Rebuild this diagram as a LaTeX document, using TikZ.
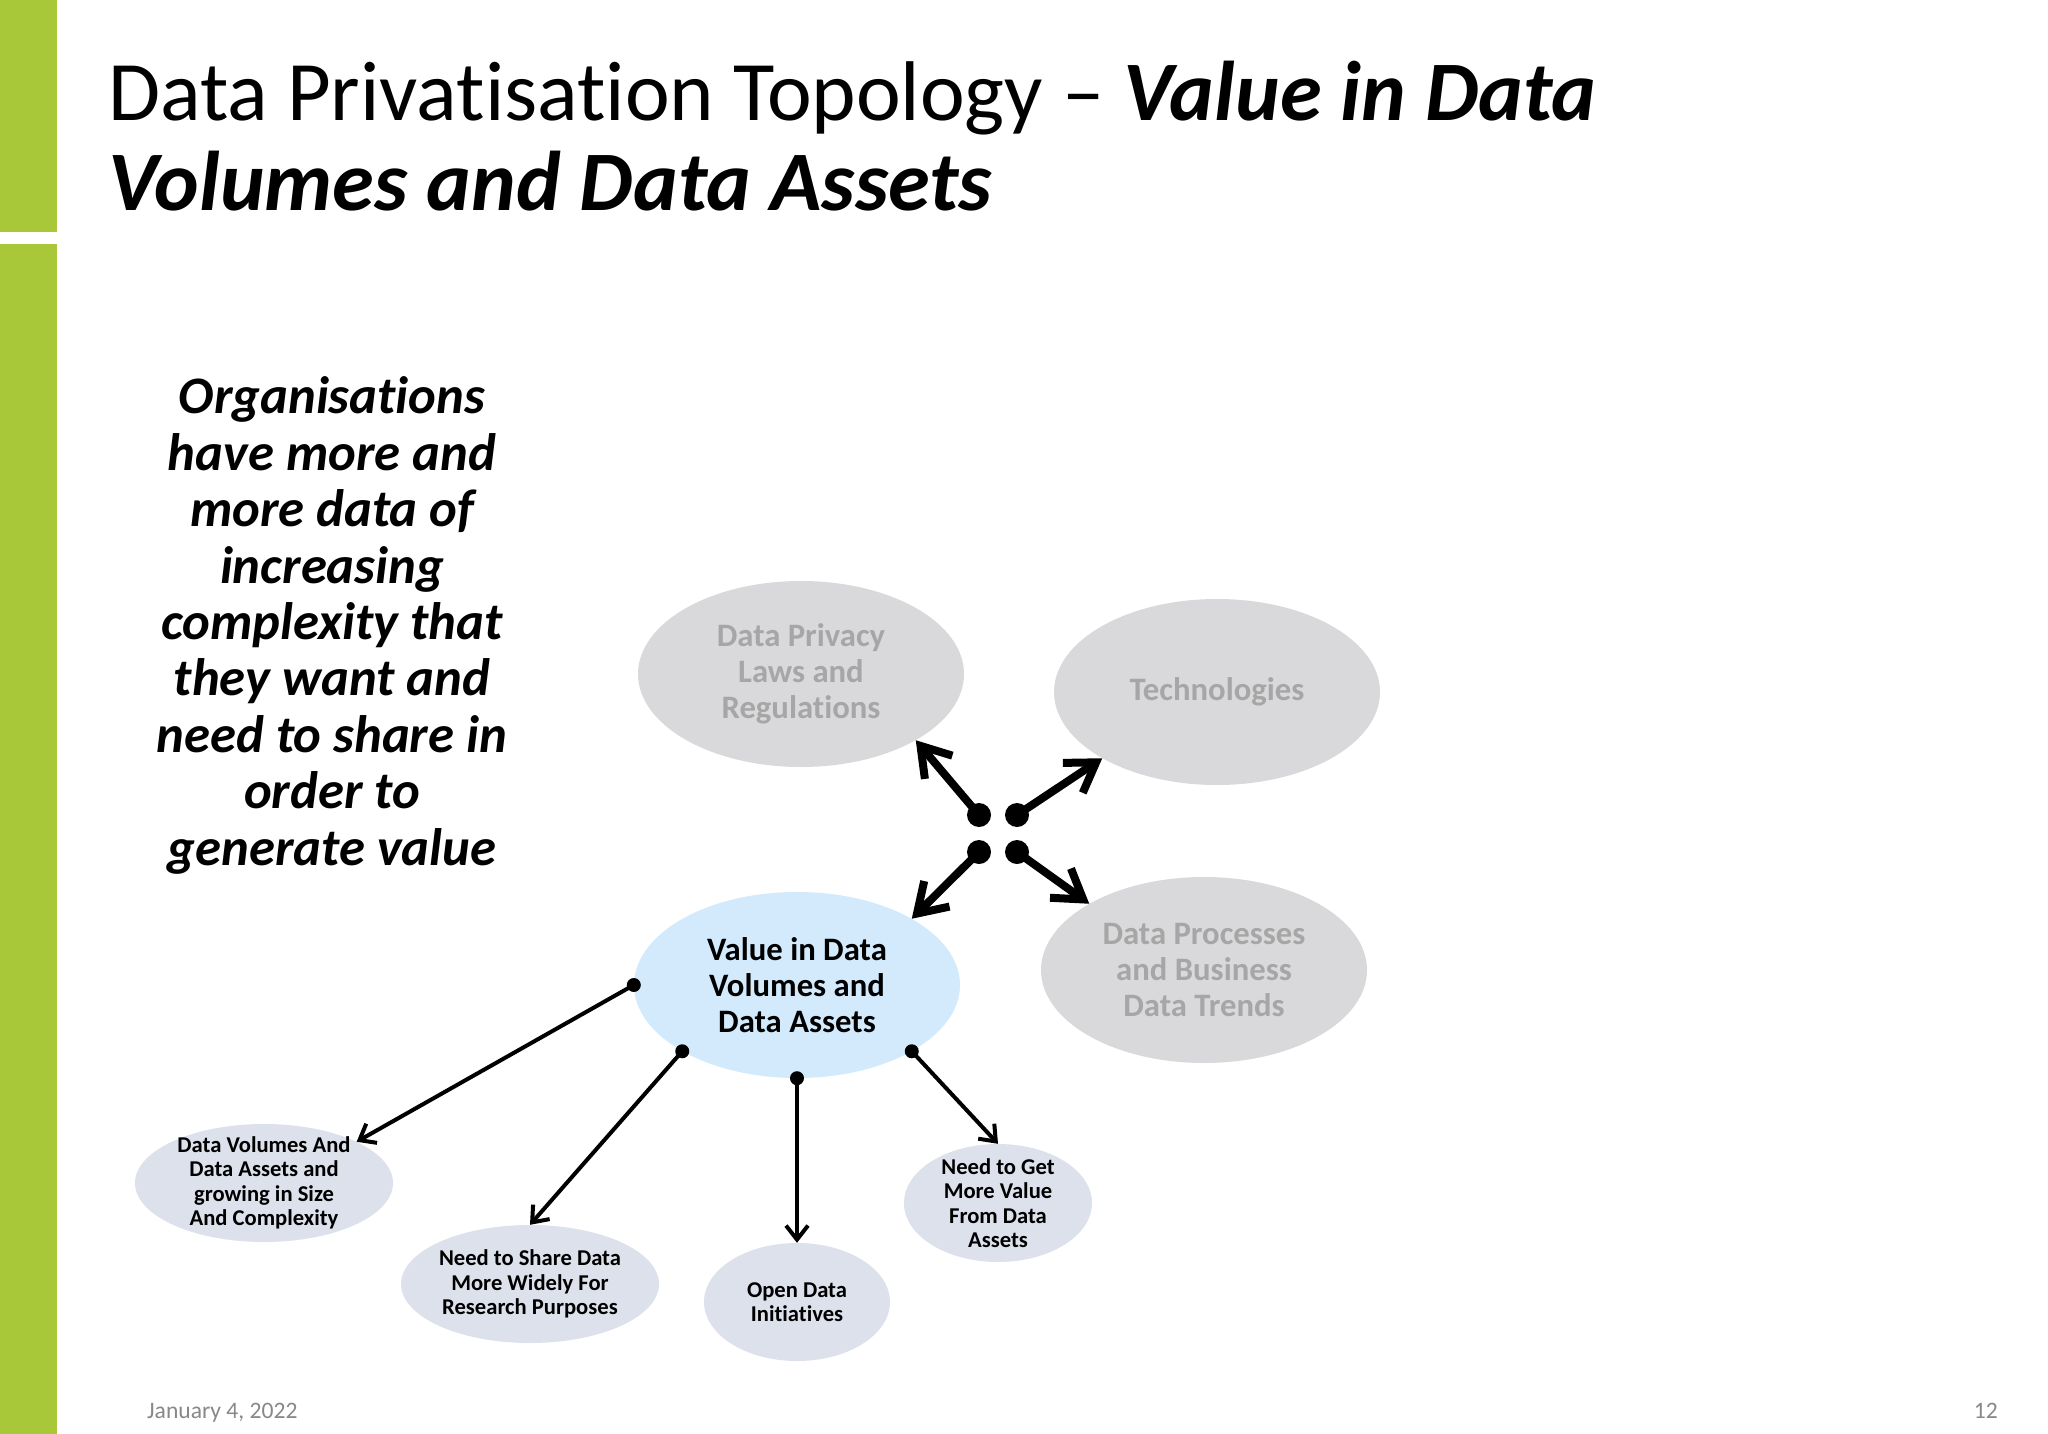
\documentclass[tikz,border=0pt]{standalone}
\usepackage{fontspec}
\setmainfont{Carlito}[Ligatures={NoCommon}]
\usetikzlibrary{shapes.geometric,arrows.meta}
\definecolor{bargreen}{HTML}{A8C83A}
\definecolor{ellgray}{HTML}{D9D9DB}
\definecolor{txtgray}{HTML}{A6A6A6}
\definecolor{valblue}{HTML}{D2EAFB}
\definecolor{smallfill}{HTML}{DCE1EC}
\definecolor{footgray}{HTML}{888888}
\tikzset{
  bigell/.style={ellipse, inner sep=0pt, minimum width=326pt, minimum height=186pt, draw=none},
  smallell/.style={ellipse, inner sep=0pt, minimum height=118pt, draw=none, fill=smallfill},
  graylbl/.style={align=center, text=txtgray, font=\bfseries\fontsize{32.7}{36}\selectfont},
  darklbl/.style={align=center, text=black, font=\bfseries\fontsize{32.7}{36}\selectfont},
  smalllbl/.style={align=center, text=black, font=\bfseries\fontsize{22.6}{24.4}\selectfont},
  bigdot/.style={circle, fill=black, inner sep=0pt, minimum size=24pt},
  smalldot/.style={circle, fill=black, inner sep=0pt, minimum size=14pt},
  thickarrow/.style={line width=8pt, -{Straight Barb[length=28pt,width=36pt]}},
  thinarrow/.style={line width=4pt, -{Straight Barb[length=14pt,width=22pt]}},
}
\begin{document}
\begin{tikzpicture}[x=1pt,y=-1pt]
\useasboundingbox[fill=white] (0,0) rectangle (2048,1434);
% left green bar
\fill[bargreen] (0,0) rectangle (57,232);
\fill[bargreen] (0,244) rectangle (57,1434);
% title
\node[anchor=base west, inner sep=0pt, font=\fontsize{84.7}{90}\selectfont] (title1) at (108,121)
  {Data Privatisation Topology – \textbf{\textit{Value in Data}}};
\node[anchor=base west, inner sep=0pt, font=\fontsize{84.7}{90}\selectfont] (title2) at (108,211)
  {\textbf{\textit{Volumes and Data Assets}}};
% left text
\node[anchor=base, inner sep=0pt, align=center, font=\bfseries\itshape\fontsize{52.7}{56.4}\selectfont] (lefttext) at (332,865)
  {Organisations\\have more and\\more data of\\increasing\\complexity that\\they want and\\need to share in\\order to\\generate value};
% big ellipses
\node[bigell, fill=ellgray, label={[graylbl]center:{Data Privacy\\Laws and\\Regulations}}] (dp) at (801,674) {};
\node[bigell, fill=ellgray, label={[graylbl]center:{Technologies}}] (tech) at (1217,692) {};
\node[bigell, fill=ellgray, label={[graylbl]center:{Data Processes\\and Business\\Data Trends}}] (proc) at (1204,970) {};
\node[bigell, fill=valblue, label={[darklbl]center:{Value in Data\\Volumes and\\Data Assets}}] (val) at (797,985) {};
% small ellipses
\node[smallell, minimum width=258pt, label={[smalllbl]center:{Data Volumes And\\Data Assets and\\growing in Size\\And Complexity}}] (dv) at (264,1183) {};
\node[smallell, minimum width=258pt, label={[smalllbl]center:{Need to Share Data\\More Widely For\\Research Purposes}}] (ns) at (530,1284) {};
\node[smallell, minimum width=186pt, label={[smalllbl]center:{Open Data\\Initiatives}}] (od) at (797,1302) {};
\node[smallell, minimum width=188pt, label={[smalllbl]center:{Need to Get\\More Value\\From Data\\Assets}}] (ng) at (998,1203) {};
% central dots and arrows
\node[bigdot] (d1) at (979,815) {};
\node[bigdot] (d2) at (1017,815) {};
\node[bigdot] (d3) at (979,852) {};
\node[bigdot] (d4) at (1017,852) {};
\draw[thickarrow] (d1.center) -- (dp.330);
\draw[thickarrow] (d2.center) -- (tech.210);
\draw[thickarrow] (d3.center) -- (val.30);
\draw[thickarrow] (d4.center) -- (proc.150);
% bottom connectors
\node[smalldot] (s1) at (val.180) {};
\node[smalldot] (s2) at (val.210) {};
\node[smalldot] (s3) at (val.270) {};
\node[smalldot] (s4) at (val.330) {};
\draw[thinarrow] (s1.center) -- (dv.24);
\draw[thinarrow] (s2.center) -- (ns.north);
\draw[thinarrow] (s3.center) -- (od.north);
\draw[thinarrow] (s4.center) -- (ng.north);
% footer
\node[anchor=base west, inner sep=0pt, text=footgray, font=\fontsize{23.6}{28}\selectfont] (date) at (147,1418) {January 4, 2022};
\node[anchor=base east, inner sep=0pt, text=footgray, font=\fontsize{23.6}{28}\selectfont] (pagenum) at (1998,1418) {12};
\end{tikzpicture}
\end{document}
